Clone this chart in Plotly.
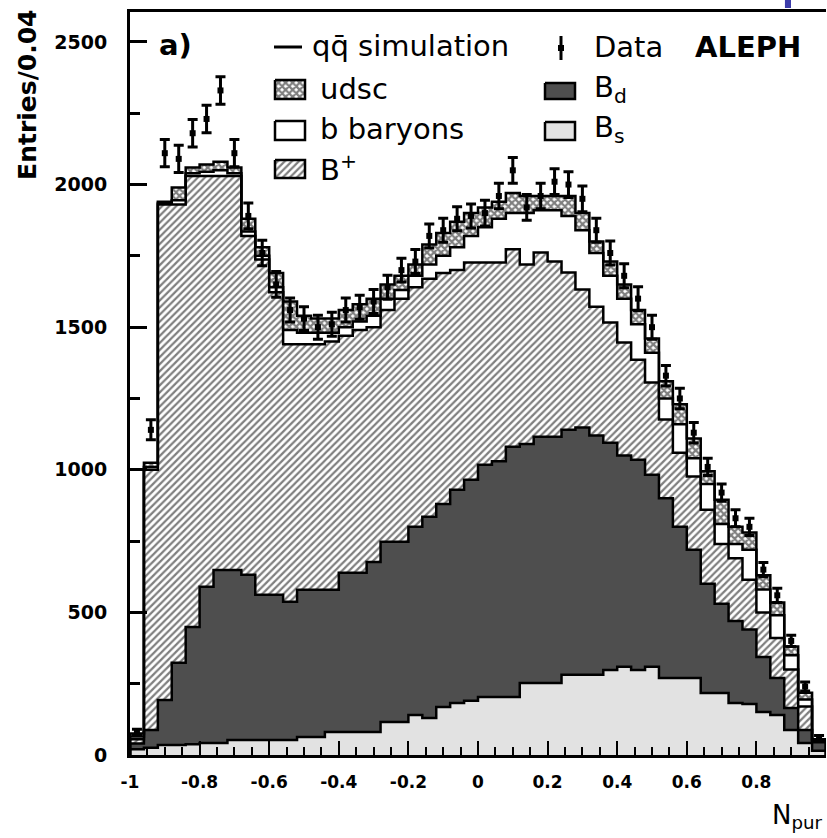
import plotly.graph_objects as go

# ---------------- data ----------------
BIN_LO = -1.0
BIN_WIDTH = 0.04
N_BINS = 50

# per-component counts per bin (stack order bottom -> top)
b_s = [20, 25, 35, 35, 38, 42, 42, 53, 53, 53,
       53, 53, 63, 63, 81, 81, 81, 81, 116, 116,
       140, 130, 168, 182, 190, 203, 203, 203, 252, 252,
       252, 281, 281, 281, 298, 309, 298, 309, 270, 270,
       270, 217, 217, 182, 179, 151, 140, 88, 42, 15]
b_d = [20, 63, 158, 288, 411, 548, 607, 596, 579, 509,
       509, 484, 516, 516, 498, 558, 558, 596, 632, 632,
       660, 705, 712, 748, 775, 815, 827, 878, 838, 864,
       864, 859, 867, 839, 797, 741, 737, 674, 630, 530,
       450, 383, 313, 288, 261, 193, 130, 77, 46, 30]
b_plus = [15, 912, 1737, 1607, 1581, 1440, 1381, 1381, 1188, 1175,
          1060, 903, 861, 861, 871, 831, 851, 823, 812, 852,
          840, 835, 810, 770, 762, 709, 697, 692, 630, 646,
          614, 552, 484, 452, 421, 396, 351, 323, 276, 260,
          256, 260, 210, 220, 174, 156, 140, 135, 82, 5]
b_baryons = [10, 10, 5, 15, 10, 15, 20, 10, 15, 13,
             18, 50, 40, 40, 30, 30, 30, 40, 40, 30,
             40, 50, 60, 80, 93, 123, 153, 127, 180, 148,
             180, 198, 208, 188, 164, 154, 124, 104, 74, 100,
             64, 90, 70, 50, 106, 80, 80, 50, 25, 2]
udsc = [10, 15, 5, 45, 20, 25, 30, 20, 45, 30,
        50, 100, 60, 50, 50, 60, 60, 60, 50, 50,
        40, 70, 80, 90, 80, 70, 60, 70, 60, 50,
        50, 70, 60, 40, 50, 50, 50, 50, 60, 70,
        70, 45, 85, 60, 60, 50, 45, 30, 23, 3]

data_vals = [80, 1140, 2110, 2090, 2180, 2230, 2330, 2110, 1890, 1760,
             1650, 1560, 1530, 1500, 1510, 1560, 1570, 1590, 1640, 1700,
             1730, 1820, 1840, 1880, 1890, 1900, 1960, 2050, 1920, 1960,
             2010, 2000, 1950, 1840, 1760, 1680, 1600, 1500, 1330, 1250,
             1130, 1010, 920, 830, 800, 650, 560, 400, 240, 60]
data_errs = [10, 35, 48, 48, 48, 48, 48, 48, 45, 45,
             45, 42, 42, 42, 42, 42, 42, 42, 42, 42,
             42, 42, 42, 42, 42, 45, 45, 45, 45, 45,
             45, 45, 45, 42, 42, 42, 42, 42, 36, 36,
             36, 30, 30, 30, 30, 25, 25, 20, 16, 8]

x_tickvals = [-1, -0.8, -0.6, -0.4, -0.2, 0, 0.2, 0.4, 0.6, 0.8, 1]
x_ticktext = ["-1", "-0.8", "-0.6", "-0.4", "-0.2", "0", "0.2", "0.4", "0.6", "0.8", "1"]
y_tickvals = [0, 500, 1000, 1500, 2000, 2500]
y_ticktext = ["0", "500", "1000", "1500", "2000", "2500"]

# ---------------- helpers ----------------
edges = [BIN_LO + BIN_WIDTH * i for i in range(N_BINS + 1)]
centers = [BIN_LO + BIN_WIDTH * (i + 0.5) for i in range(N_BINS)]


def cumulate(*series):
    out = []
    run = [0] * N_BINS
    for s in series:
        run = [a + b for a, b in zip(run, s)]
        out.append(run)
    return out


c_s, c_d, c_p, c_b, c_u = cumulate(b_s, b_d, b_plus, b_baryons, udsc)


def step_xy(vals):
    xs = [edges[0]] + edges[:N_BINS] + [edges[N_BINS], edges[N_BINS]]
    ys = [0] + list(vals) + [vals[-1], 0]
    return xs, ys


FONT = "DejaVu Sans"
LINE_W = 2.5
HATCH = dict(shape="/", fgcolor="black", bgcolor="white", size=5, solidity=0.45)
CROSS = dict(shape="x", fgcolor="black", bgcolor="white", size=5, solidity=0.7)

fig = go.Figure()

layers = [
    (c_s, dict(fill="tozeroy", fillcolor="rgb(226,226,226)")),
    (c_d, dict(fill="tonexty", fillcolor="rgb(78,78,78)")),
    (c_p, dict(fill="tonexty", fillcolor="white", fillpattern=HATCH)),
    (c_b, dict(fill="tonexty", fillcolor="white")),
    (c_u, dict(fill="tonexty", fillcolor="white", fillpattern=CROSS)),
]
for vals, kw in layers:
    xs, ys = step_xy(vals)
    fig.add_trace(go.Scatter(x=xs, y=ys, mode="lines",
                             line=dict(shape="hv", color="black", width=LINE_W),
                             hoverinfo="skip", **kw))

# data points
fig.add_trace(go.Scatter(
    x=centers, y=data_vals, mode="markers",
    marker=dict(symbol="square", size=6, color="black"),
    error_y=dict(type="data", array=data_errs, color="black", thickness=3, width=5),
))

# ---------------- legend drawn on an overlay pixel-like axis ----------------
def rect(x0, x1, y0, y1):
    return [x0, x1, x1, x0, x0], [y0, y0, y1, y1, y0]


sw = [
    (275, 305, 80, 99, dict(fillcolor="white", fillpattern=CROSS)),
    (545, 575, 83, 99, dict(fillcolor="rgb(78,78,78)")),
    (275, 305, 121, 140, dict(fillcolor="white")),
    (545, 575, 122, 140, dict(fillcolor="rgb(226,226,226)")),
    (275, 305, 160, 178, dict(fillcolor="white", fillpattern=HATCH)),
]
for x0, x1, y0, y1, kw in sw:
    rx, ry = rect(x0, x1, y0, y1)
    fig.add_trace(go.Scatter(x=rx, y=ry, mode="lines", fill="toself",
                             line=dict(color="black", width=2.5),
                             xaxis="x2", yaxis="y2", hoverinfo="skip", **kw))

# line swatch for simulation
fig.add_trace(go.Scatter(x=[274, 302], y=[47, 47], mode="lines",
                         line=dict(color="black", width=3),
                         xaxis="x2", yaxis="y2", hoverinfo="skip"))
# data swatch
fig.add_trace(go.Scatter(x=[561], y=[48], mode="markers",
                         marker=dict(symbol="square", size=6, color="black"),
                         error_y=dict(type="data", array=[12], color="black",
                                      thickness=3, width=0),
                         xaxis="x2", yaxis="y2", hoverinfo="skip"))

legend_texts = [
    (310, 46, "qq\u0304 simulation", False),
    (592, 47, "Data", False),
    (693, 47, "ALEPH", True),
    (318, 89, "udsc", False),
    (592, 89, "B<sub>d</sub>", False),
    (318, 129, "b baryons", False),
    (592, 129, "B<sub>s</sub>", False),
    (318, 168, "B<sup>+</sup>", False),
    (157, 45, "a)", True),
]
annotations = []
for x, y, t, bold in legend_texts:
    annotations.append(dict(
        x=x, y=y, xref="x2", yref="y2", text=t, showarrow=False,
        xanchor="left", yanchor="middle",
        font=dict(family=FONT, size=29, color="black",
                  weight="bold" if bold else "normal"),
    ))

# axis titles
annotations.append(dict(
    x=-0.147, y=0.888, xref="paper", yref="paper", text="Entries/0.04",
    textangle=-90, showarrow=False, xanchor="center", yanchor="middle",
    font=dict(family=FONT, size=25, color="black", weight="bold"),
))
annotations.append(dict(
    x=0.919, y=-0.083, xref="paper", yref="paper", text="N<sub>pur</sub>",
    showarrow=False, xanchor="left", yanchor="middle",
    font=dict(family=FONT, size=26, color="black"),
))

fig.update_layout(
    width=827, height=838,
    margin=dict(l=130, r=1, t=12, b=83),
    paper_bgcolor="white", plot_bgcolor="white",
    showlegend=False,
    annotations=annotations,
    shapes=[dict(type="rect", xref="paper", yref="paper",
                 x0=0.941, x1=0.9497, y0=1.0054, y1=1.02,
                 fillcolor="rgb(60,60,170)", line=dict(width=0))],
    xaxis=dict(
        range=[-1, 1], tickvals=x_tickvals, ticktext=x_ticktext,
        ticks="inside", ticklen=14, tickwidth=2, tickcolor="black",
        showline=True, linewidth=3, linecolor="black", mirror=True,
        showgrid=False, zeroline=False,
        minor=dict(ticks="inside", tick0=-1, dtick=0.05, ticklen=8,
                   tickwidth=2, tickcolor="black", showgrid=False),
        tickfont=dict(family=FONT, size=17, color="black", weight="bold"),
        ticklabelstandoff=10,
    ),
    yaxis=dict(
        range=[0, 2605], tickvals=y_tickvals, ticktext=y_ticktext,
        ticks="inside", ticklen=17, tickwidth=3, tickcolor="black",
        showline=True, linewidth=3, linecolor="black", mirror=False,
        showgrid=False, zeroline=False,
        minor=dict(ticks="inside", tick0=0, dtick=250, ticklen=10,
                   tickwidth=3, tickcolor="black", showgrid=False),
        tickfont=dict(family=FONT, size=19, color="black", weight="bold"),
        ticklabelstandoff=16,
    ),
    xaxis2=dict(overlaying="x", anchor="y2", range=[130, 826], visible=False,
                fixedrange=True),
    yaxis2=dict(overlaying="y", anchor="x2", range=[755, 12], visible=False,
                fixedrange=True),
)

fig.write_html("out.html")
